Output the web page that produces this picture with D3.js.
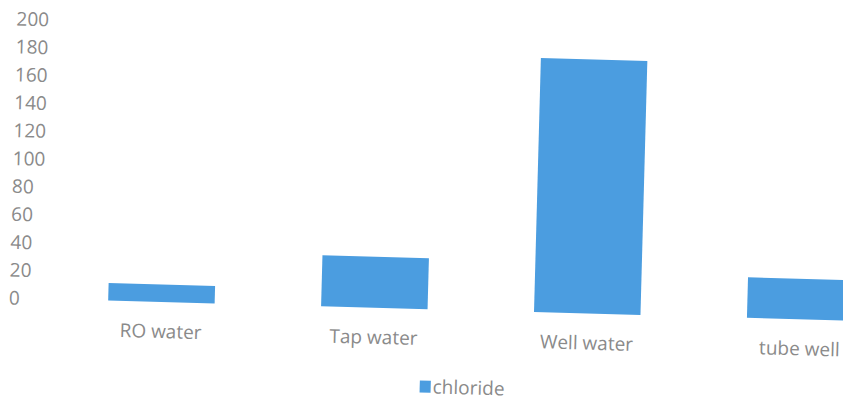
<!DOCTYPE html>
<html>
<head>
<meta charset="utf-8">
<script src="https://cdn.jsdelivr.net/npm/d3@7"></script>
<style>
  html, body { margin: 0; padding: 0; background: #fff; }
  svg { display: block; }
  text { font-family: "Open Sans", sans-serif; }
</style>
</head>
<body>
<svg id="chart" width="843" height="400"></svg>
<script>
const categories = ["RO water", "Tap water", "Well water", "tube well"];
const chloride = [12.5, 36.5, 182, 29];
const yTicks = [0, 20, 40, 60, 80, 100, 120, 140, 160, 180, 200];
const seriesName = "chloride";

const svg = d3.select("#chart");
// the reference is a slightly rotated scan
const g = svg.append("g").attr("transform", "rotate(1.55)");

const x = d3.scaleBand()
  .domain(categories)
  .range([63, 915])
  .paddingInner(0.5)
  .paddingOuter(0.25);

const y = d3.scaleLinear()
  .domain([0, 200])
  .range([297.5, 18.3]);

const barColor = "#4b9de0";
const textColor = "#8a8a8a";
const fs = 19;

// y tick labels (left aligned, no axis line)
g.append("g").selectAll("text")
  .data(yTicks)
  .join("text")
  .attr("x", 17)
  .attr("y", d => y(d))
  .attr("dy", "0.35em")
  .attr("text-anchor", "start")
  .attr("font-size", fs)
  .attr("fill", textColor)
  .text(d => d);

// bars
g.append("g").selectAll("rect")
  .data(categories)
  .join("rect")
  .attr("x", d => x(d))
  .attr("width", x.bandwidth())
  .attr("y", (d, i) => y(chloride[i]))
  .attr("height", (d, i) => y(0) - y(chloride[i]))
  .attr("fill", barColor);

// category labels
g.append("g").selectAll("text")
  .data(categories)
  .join("text")
  .attr("x", d => x(d) + x.bandwidth() / 2)
  .attr("y", 327)
  .attr("dy", "0.35em")
  .attr("text-anchor", "middle")
  .attr("font-size", fs)
  .attr("fill", textColor)
  .text(d => d);

// legend
const leg = g.append("g").attr("transform", "translate(430,369)");
leg.append("rect")
  .attr("width", 11).attr("height", 12)
  .attr("fill", barColor);
leg.append("text")
  .attr("x", 13).attr("y", 6)
  .attr("dy", "0.35em")
  .attr("font-size", fs)
  .attr("fill", textColor)
  .text(seriesName);
</script>
</body>
</html>
